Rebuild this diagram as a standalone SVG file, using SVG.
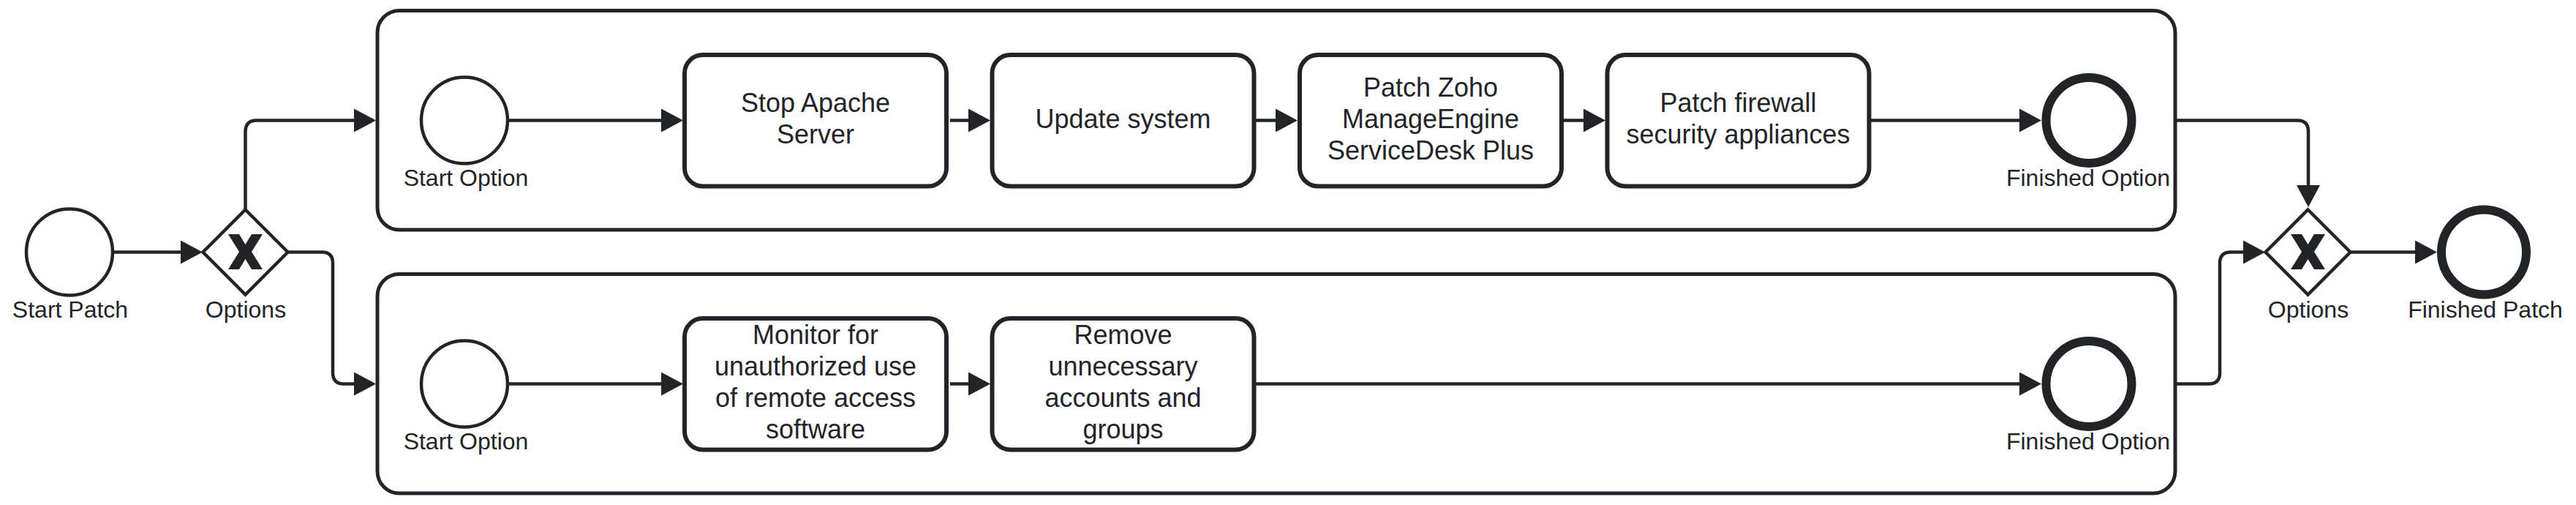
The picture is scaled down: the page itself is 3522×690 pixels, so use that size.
<svg xmlns="http://www.w3.org/2000/svg" width="3522" height="690" viewBox="0 0 3522 690">
<style>
.bg{fill:#ffffff}
.pool{fill:#ffffff;stroke:#232428;stroke-width:5}
.task{fill:#ffffff;stroke:#232428;stroke-width:6}
.ev{fill:#ffffff;stroke:#232428;stroke-width:4.5}
.end{fill:#ffffff;stroke:#232428;stroke-width:12}
.gw{fill:#ffffff;stroke:#232428;stroke-width:4.5;stroke-linejoin:miter}
.mk{fill:#232428}
.edge{fill:none;stroke:#232428;stroke-width:4.5}
.lbl{font-family:"Liberation Sans",Arial,sans-serif;font-size:32px;fill:#232428;text-anchor:middle}
.tt{font-family:"Liberation Sans",Arial,sans-serif;font-size:36px;fill:#232428;text-anchor:middle}
</style>
<defs>
<marker id="arr" markerUnits="userSpaceOnUse" markerWidth="30" markerHeight="32" refX="20" refY="16" orient="auto">
<path d="M0,0 L30,16 L0,32 z" fill="#232428"/>
</marker>
</defs>
<rect class="bg" x="0" y="0" width="3522" height="690"/>

<g id="sub1"><rect class="pool" x="516" y="14.5" width="2458" height="299.5" rx="30" ry="30"/></g>
<g id="sub2"><rect class="pool" x="516" y="374.5" width="2458" height="299.5" rx="30" ry="30"/></g>

<g id="connectors">
<path class="edge" marker-end="url(#arr)" d="M154 344.5 H267"/>
<path class="edge" marker-end="url(#arr)" d="M335.5 286 V180 Q335.5 164.5 351 164.5 H504"/>
<path class="edge" marker-end="url(#arr)" d="M393 344.5 H440 Q455 344.5 455 359.5 V509 Q455 524.5 470 524.5 H504"/>
<path class="edge" marker-end="url(#arr)" d="M694 164.5 H924"/>
<path class="edge" marker-end="url(#arr)" d="M1299 164.5 H1344"/>
<path class="edge" marker-end="url(#arr)" d="M1717 164.5 H1764"/>
<path class="edge" marker-end="url(#arr)" d="M2138 164.5 H2185"/>
<path class="edge" marker-end="url(#arr)" d="M2558 164.5 H2781"/>
<path class="edge" marker-end="url(#arr)" d="M2976 164.5 H3141 Q3156 164.5 3156 179.5 V273"/>
<path class="edge" marker-end="url(#arr)" d="M694 524.5 H924"/>
<path class="edge" marker-end="url(#arr)" d="M1299 524.5 H1344"/>
<path class="edge" marker-end="url(#arr)" d="M1717 524.5 H2781"/>
<path class="edge" marker-end="url(#arr)" d="M2976 524.5 H3020 Q3035 524.5 3035 509.5 V359.5 Q3035 344.5 3050 344.5 H3087"/>
<path class="edge" marker-end="url(#arr)" d="M3214 344.5 H3322"/>
</g>

<g id="startPatch"><circle class="ev" cx="95" cy="344.5" r="59"/><text class="lbl" x="96" y="434">Start Patch</text></g>

<g id="gateway1">
<polygon class="gw" points="335.5,286.5 393.5,344.5 335.5,402.5 277.5,344.5"/>
<polygon class="mk" points="312,320 327,320 335.5,334 344,320 359,320 344,344 359,368 344,368 335.5,354 327,368 312,368 327,344"/>
<text class="lbl" x="336" y="434">Options</text>
</g>

<g id="startOption1"><circle class="ev" cx="635" cy="164.5" r="59"/><text class="lbl" x="637" y="254">Start Option</text></g>
<g id="task1"><rect class="task" x="936" y="75" width="358" height="179.5" rx="25" ry="25"/><text class="tt" x="1115" y="153">Stop Apache</text><text class="tt" x="1115" y="196">Server</text></g>
<g id="task2"><rect class="task" x="1356.5" y="75" width="358" height="179.5" rx="25" ry="25"/><text class="tt" x="1535.5" y="175">Update system</text></g>
<g id="task3"><rect class="task" x="1777" y="75" width="358" height="179.5" rx="25" ry="25"/><text class="tt" x="1956" y="132">Patch Zoho</text><text class="tt" x="1956" y="175">ManageEngine</text><text class="tt" x="1956" y="218">ServiceDesk Plus</text></g>
<g id="task4"><rect class="task" x="2197.5" y="75" width="358" height="179.5" rx="25" ry="25"/><text class="tt" x="2376.5" y="153">Patch firewall</text><text class="tt" x="2376.5" y="196">security appliances</text></g>
<g id="endOption1"><circle class="end" cx="2856" cy="164.5" r="58.5"/><text class="lbl" x="2855" y="254">Finished Option</text></g>

<g id="startOption2"><circle class="ev" cx="635" cy="524.5" r="59"/><text class="lbl" x="637" y="614">Start Option</text></g>
<g id="task5"><rect class="task" x="936" y="435" width="358" height="179.5" rx="25" ry="25"/><text class="tt" x="1115" y="470">Monitor for</text><text class="tt" x="1115" y="513">unauthorized use</text><text class="tt" x="1115" y="556">of remote access</text><text class="tt" x="1115" y="599">software</text></g>
<g id="task6"><rect class="task" x="1356.5" y="435" width="358" height="179.5" rx="25" ry="25"/><text class="tt" x="1535.5" y="470">Remove</text><text class="tt" x="1535.5" y="513">unnecessary</text><text class="tt" x="1535.5" y="556">accounts and</text><text class="tt" x="1535.5" y="599">groups</text></g>
<g id="endOption2"><circle class="end" cx="2856" cy="524.5" r="58.5"/><text class="lbl" x="2855" y="614">Finished Option</text></g>

<g id="gateway2">
<polygon class="gw" points="3155.5,286.5 3213.5,344.5 3155.5,402.5 3097.5,344.5"/>
<polygon class="mk" points="3132,320 3147,320 3155.5,334 3164,320 3179,320 3164,344 3179,368 3164,368 3155.5,354 3147,368 3132,368 3147,344"/>
<text class="lbl" x="3156" y="434">Options</text>
</g>

<g id="finishedPatch"><circle class="end" cx="3396" cy="344.5" r="58"/><text class="lbl" x="3398" y="434">Finished Patch</text></g>
</svg>
